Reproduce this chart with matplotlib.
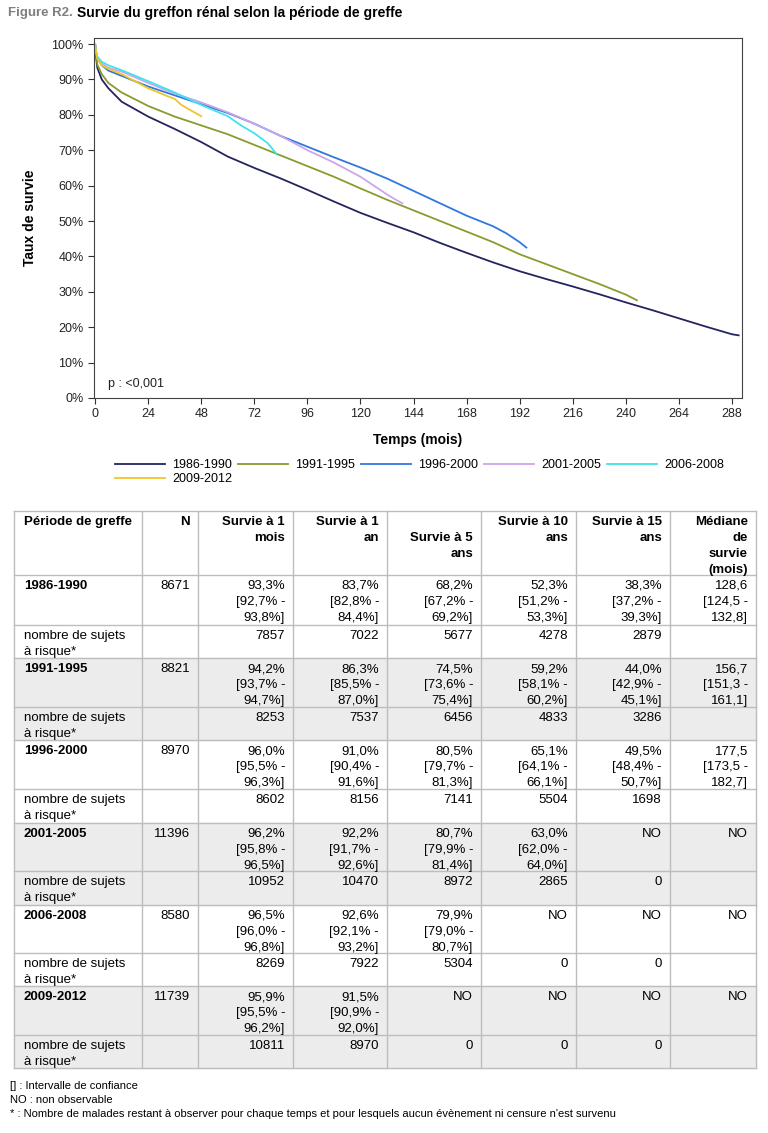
import numpy as np
import matplotlib.pyplot as plt
from matplotlib.lines import Line2D

plt.rcParams['font.family'] = ['Liberation Sans', 'DejaVu Sans']

# --- courbes de survie ---
t_8690 = [0, 0.5, 1, 3, 6, 12, 24, 36, 48, 60, 72, 84, 96, 108, 120, 132, 144, 156, 168, 180,
          192, 204, 216, 228, 240, 252, 264, 276, 288, 291]
s_8690 = [100, 96, 93.3, 90, 87.5, 83.7, 79.5, 76, 72.3, 68.2, 65, 62, 58.8, 55.5, 52.3, 49.5,
          46.8, 43.8, 41, 38.3, 35.8, 33.6, 31.5, 29.3, 27, 24.8, 22.5, 20.2, 18.0, 17.7]
t_9195 = [0, 0.5, 1, 3, 6, 12, 24, 36, 48, 60, 72, 84, 96, 108, 120, 132, 144, 156, 168, 180,
          192, 204, 216, 228, 240, 245]
s_9195 = [100, 97, 94.2, 91.5, 89, 86.3, 82.5, 79.5, 77, 74.5, 71.5, 68.5, 65.5, 62.5, 59.2, 56,
          53, 50, 47, 44, 40.6, 37.8, 35, 32.2, 29.2, 27.6]
t_9600 = [0, 0.5, 1, 3, 6, 12, 24, 36, 48, 60, 72, 84, 96, 108, 120, 132, 144, 156, 168, 180,
          186, 192, 195]
s_9600 = [100, 97.5, 96, 94, 92.5, 91, 88, 85.5, 83, 80.5, 77.5, 74, 71, 68, 65.1, 62, 58.5, 55,
          51.5, 48.5, 46.5, 44, 42.5]
t_0105 = [0, 0.5, 1, 3, 6, 12, 24, 36, 48, 60, 72, 84, 96, 108, 120, 126, 132, 136, 139]
s_0105 = [100, 97.5, 96.2, 94.5, 93.3, 92.2, 89, 86, 83.5, 80.7, 77.5, 74, 70, 66.5, 62.5, 60,
          57.5, 56, 55]
t_0608 = [0, 0.5, 1, 3, 6, 12, 24, 36, 48, 54, 60, 66, 72, 78, 82]
s_0608 = [100, 97.8, 96.5, 95, 94, 92.6, 89.5, 86.3, 82.8, 81.2, 79.6, 77, 74.8, 72, 69]
t_0912 = [0, 0.5, 1, 3, 6, 12, 24, 33, 36, 39, 44, 48]
s_0912 = [100, 97.5, 95.9, 94, 93, 91.5, 87.5, 85.2, 84.5, 82.8, 81, 79.6]

periodes = ['1986-1990', '1991-1995', '1996-2000', '2001-2005', '2006-2008', '2009-2012']
couleurs = ['#24245e', '#8a9b2d', '#2f78de', '#cba6ea', '#3fe4ec', '#f3c42a']
courbes = [(t_8690, s_8690), (t_9195, s_9195), (t_9600, s_9600),
           (t_0105, s_0105), (t_0608, s_0608), (t_0912, s_0912)]

# --- tableau ---
n_total = [8671, 8821, 8970, 11396, 8580, 11739]
s1m = [93.3, 94.2, 96.0, 96.2, 96.5, 95.9]
s1m_lo = [92.7, 93.7, 95.5, 95.8, 96.0, 95.5]
s1m_hi = [93.8, 94.7, 96.3, 96.5, 96.8, 96.2]
s1a = [83.7, 86.3, 91.0, 92.2, 92.6, 91.5]
s1a_lo = [82.8, 85.5, 90.4, 91.7, 92.1, 90.9]
s1a_hi = [84.4, 87.0, 91.6, 92.6, 93.2, 92.0]
s5a = [68.2, 74.5, 80.5, 80.7, 79.9, None]
s5a_lo = [67.2, 73.6, 79.7, 79.9, 79.0, None]
s5a_hi = [69.2, 75.4, 81.3, 81.4, 80.7, None]
s10a = [52.3, 59.2, 65.1, 63.0, None, None]
s10a_lo = [51.2, 58.1, 64.1, 62.0, None, None]
s10a_hi = [53.3, 60.2, 66.1, 64.0, None, None]
s15a = [38.3, 44.0, 49.5, None, None, None]
s15a_lo = [37.2, 42.9, 48.4, None, None, None]
s15a_hi = [39.3, 45.1, 50.7, None, None, None]
med = [128.6, 156.7, 177.5, None, None, None]
med_lo = [124.5, 151.3, 173.5, None, None, None]
med_hi = [132.8, 161.1, 182.7, None, None, None]
a_risque = [[7857, 7022, 5677, 4278, 2879],
            [8253, 7537, 6456, 4833, 3286],
            [8602, 8156, 7141, 5504, 1698],
            [10952, 10470, 8972, 2865, 0],
            [8269, 7922, 5304, 0, 0],
            [10811, 8970, 0, 0, 0]]
entetes = ['Période de greffe', 'N', 'Survie à 1\nmois', 'Survie à 1\nan', 'Survie à 5\nans',
           'Survie à 10\nans', 'Survie à 15\nans', 'Médiane\nde\nsurvie\n(mois)']

W, H = 768, 1133
fig = plt.figure(figsize=(W / 100, H / 100), dpi=100)
fx = lambda px: px / W
fy = lambda py: 1 - py / H

# titre
t1 = fig.text(fx(8), fy(13), 'Figure R2.', color='#7f7f7f', fontsize=9.5, fontweight='bold', va='center')
fig.canvas.draw()
bb = t1.get_window_extent()
fig.text(bb.x1 / W + fx(4), fy(13), 'Survie du greffon rénal selon la période de greffe',
         fontsize=10, fontweight='bold', va='center')

ax = fig.add_axes([fx(94), fy(398), fx(742 - 94), (398 - 38) / H])
for (t, s), c, lab in zip(courbes, couleurs, periodes):
    ax.plot(t, s, color=c, lw=1.3, label=lab)
ax.set_xlim(-0.5, 292.5)
ax.set_ylim(0, 101.7)
ax.set_xticks(np.arange(0, 289, 24))
ax.set_yticks(np.arange(0, 101, 10))
ax.set_yticklabels([f'{v}%' for v in range(0, 101, 10)])
ax.tick_params(labelsize=9, length=4, color='#333333', labelcolor='#222222')
for sp in ax.spines.values():
    sp.set_color('#444444')
ax.set_xlabel('Temps (mois)', fontsize=10, fontweight='bold', labelpad=9)
ax.set_ylabel('Taux de survie', fontsize=10, fontweight='bold', labelpad=10)
ax.text(6, 3, 'p : <0,001', fontsize=9, color='#222222')

h = [Line2D([], [], color=c, lw=1.3) for c in couleurs]
ordre = [0, 5, 1, 2, 3, 4]
fig.legend([h[i] for i in ordre], [periodes[i] for i in ordre], ncol=5,
           loc='upper left', bbox_to_anchor=(fx(110), fy(454)), frameon=False,
           fontsize=9, handlelength=4.0, columnspacing=0.5, handletextpad=0.55,
           labelspacing=0.15, borderaxespad=0)

# tableau
col_x = [14, 142, 198, 293, 387, 481, 576, 670, 756]
row_y = [511, 575, 625, 658, 707, 740, 789, 823, 871, 905, 953, 986, 1035, 1068]
fs_tab = 9.5
for g in (1, 3, 5):
    y0, y1 = row_y[1 + 2 * g], row_y[3 + 2 * g]
    fig.patches.append(plt.Rectangle((fx(col_x[0]), fy(y1)), fx(col_x[-1] - col_x[0]), (y1 - y0) / H,
                                     transform=fig.transFigure, color='#ececec', zorder=0))
for y in row_y:
    fig.add_artist(Line2D([fx(col_x[0]), fx(col_x[-1])], [fy(y), fy(y)], color='#bdbdbd', lw=1))
for x in col_x:
    fig.add_artist(Line2D([fx(x), fx(x)], [fy(row_y[0]), fy(row_y[-1])], color='#bdbdbd', lw=1))


def cell(ci, ri, s, bold=False, dy=0):
    top = row_y[ri] + 5 + dy
    w = 'bold' if bold else 'normal'
    if ci == 0:
        fig.text(fx(col_x[0] + 10), fy(top), s, ha='left', va='top', fontsize=fs_tab,
                 fontweight=w, linespacing=1.45)
    else:
        fig.text(fx(col_x[ci + 1] - 8), fy(top), s, ha='right', va='top', fontsize=fs_tab,
                 fontweight=w, linespacing=1.45, multialignment='right')


for ci, e in enumerate(entetes):
    cell(ci, 0, e, bold=True, dy=16 if ci == 4 else 0)


def pct(v, lo, hi):
    if v is None:
        return 'NO'
    f = lambda z: f'{z:.1f}'.replace('.', ',')
    return f'{f(v)}%\n[{f(lo)}% -\n{f(hi)}%]'


def medtxt(v, lo, hi):
    if v is None:
        return 'NO'
    f = lambda z: f'{z:.1f}'.replace('.', ',')
    return f'{f(v)}\n[{f(lo)} -\n{f(hi)}]'


for i, p in enumerate(periodes):
    r = 1 + 2 * i
    cell(0, r, p, bold=True)
    cell(1, r, str(n_total[i]))
    cols = [(s1m, s1m_lo, s1m_hi), (s1a, s1a_lo, s1a_hi), (s5a, s5a_lo, s5a_hi),
            (s10a, s10a_lo, s10a_hi), (s15a, s15a_lo, s15a_hi)]
    for k, (v, lo, hi) in enumerate(cols):
        cell(2 + k, r, pct(v[i], lo[i], hi[i]))
    cell(7, r, medtxt(med[i], med_lo[i], med_hi[i]))
    cell(0, r + 1, 'nombre de sujets\nà risque*')
    for k, n in enumerate(a_risque[i]):
        cell(2 + k, r + 1, str(n))

notes = ['[] : Intervalle de confiance', 'NO : non observable',
         '* : Nombre de malades restant à observer pour chaque temps et pour lesquels aucun évènement ni censure n\'est survenu']
for k, s in enumerate(notes):
    fig.text(fx(10), fy(1086 + 14 * k), s, fontsize=8, va='center')

fig.savefig('out.png', dpi=100)
